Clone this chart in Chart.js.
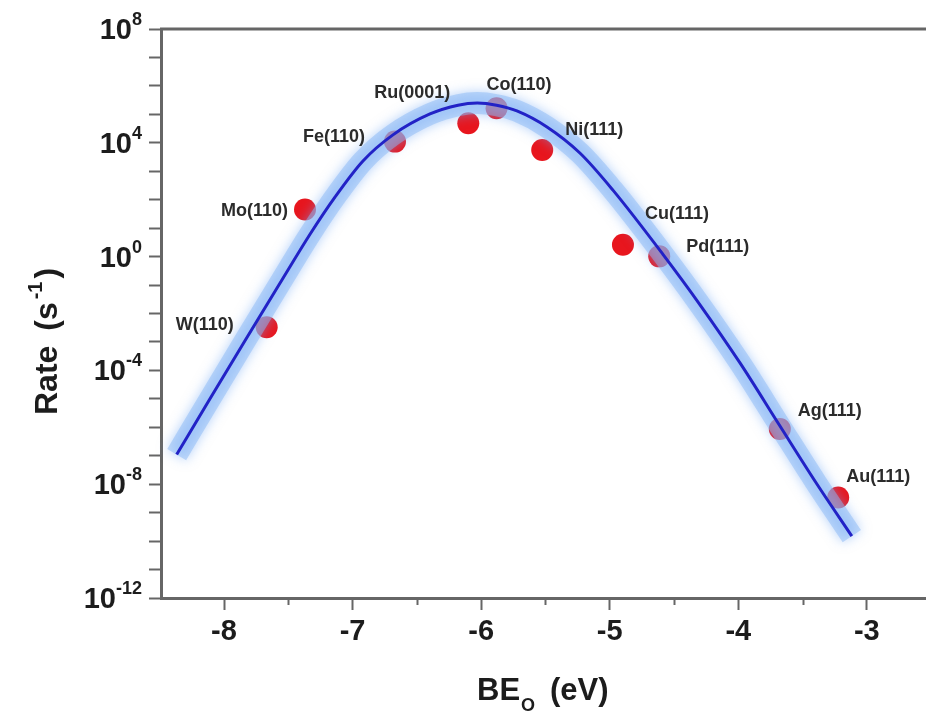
<!DOCTYPE html>
<html>
<head>
<meta charset="utf-8">
<script src="https://cdn.jsdelivr.net/npm/chart.js@4.4.1/dist/chart.umd.min.js"></script>
<style>
  html, body { margin: 0; padding: 0; background: #fff; }
  canvas { display: block; }
</style>
</head>
<body>
<canvas id="volcano" width="926" height="713"></canvas>
<script>
// fitted volcano curve
const curveBE = [-8.368, -8.109, -7.837, -7.565, -7.331, -7.137, -6.919, -6.686, -6.398, -6.18, -6.03,
                 -5.88, -5.722, -5.488, -5.232, -4.975, -4.586, -4.299, -3.988, -3.677, -3.404, -3.117];
const curveRate = [1.1e-7, 1.0e-5, 1.1e-3, 0.115, 6.1, 123, 2.3e3, 1.9e4, 1.03e5, 2.1e5, 2.5e5,
                   2.1e5, 1.32e5, 3.6e4, 4.37e3, 217, 1.2, 2.07e-2, 1.87e-4, 1.13e-6, 1.3e-8, 1.5e-10];

// surfaces
const surfaces = ['W(110)', 'Mo(110)', 'Fe(110)', 'Ru(0001)', 'Co(110)', 'Ni(111)', 'Cu(111)', 'Pd(111)', 'Ag(111)', 'Au(111)'];
const surfBE = [-7.668, -7.37, -6.67, -6.10, -5.88, -5.525, -4.897, -4.615, -3.677, -3.223];
const surfRate = [3.3e-3, 45, 1.1e4, 4.9e4, 1.64e5, 5.6e3, 2.6, 1.02, 8.7e-7, 3.4e-9];

// axis ticks
const xTicks = [-8, -7, -6, -5, -4, -3];
const xMinor = [-7.5, -6.5, -5.5, -4.5, -3.5];
const yExponents = [-12, -8, -4, 0, 4, 8];

// where each label sits next to its dot: [align, dx, dy]
const labelPlace = [
  ['right', -33, -2], ['right', -17, 1], ['right', -30, -5], ['right', -18, -30], ['left', -10, -23],
  ['left', 23, -20], ['left', 22, -31], ['left', 27, -9], ['left', 18, -18], ['left', 8, -20]
];

const FONT = '"Liberation Sans", Arial, sans-serif';
const AXIS = '#666';
const INK = '#1c1c1c';

const glow = {
  id: 'glow',
  beforeDatasetDraw(chart, args) {
    if (args.index === 1) {
      const c = chart.ctx;
      c.save();
      c.shadowColor = 'rgba(110,165,245,1)';
      c.shadowBlur = 12;
    }
  },
  afterDatasetDraw(chart, args) {
    if (args.index === 1) chart.ctx.restore();
  }
};

const decorations = {
  id: 'decorations',
  afterDraw(chart) {
    const { ctx, chartArea: a, scales } = chart;
    const x = scales.x, y = scales.y;
    ctx.save();

    // top frame line
    ctx.strokeStyle = AXIS;
    ctx.lineWidth = 3;
    ctx.beginPath();
    ctx.moveTo(a.left - 1, a.top);
    ctx.lineTo(a.right, a.top);
    ctx.stroke();

    // minor x ticks
    ctx.lineWidth = 2;
    xMinor.forEach(v => {
      const px = Math.round(x.getPixelForValue(v)) + 0.5;
      ctx.beginPath();
      ctx.moveTo(px, a.bottom);
      ctx.lineTo(px, a.bottom + 7);
      ctx.stroke();
    });

    // y tick labels 10^n
    ctx.fillStyle = INK;
    ctx.textAlign = 'right';
    yExponents.forEach(e => {
      const py = y.getPixelForValue(Math.pow(10, e));
      const exp = String(e);
      ctx.font = 'bold 18px ' + FONT;
      const ew = ctx.measureText(exp).width;
      ctx.textBaseline = 'alphabetic';
      ctx.fillText(exp, 142, py - 4);
      ctx.font = 'bold 29px ' + FONT;
      ctx.textBaseline = 'middle';
      ctx.fillText('10', 142 - ew, py + 2);
    });

    // y title, rotated
    ctx.save();
    ctx.translate(57, 415);
    ctx.rotate(-Math.PI / 2);
    ctx.textAlign = 'left';
    ctx.textBaseline = 'alphabetic';
    ctx.font = 'bold 32px ' + FONT;
    ctx.fillText('Rate', 0, 0);
    let w = ctx.measureText('Rate ').width + 6;
    ctx.fillText('(s', w, 0);
    w += ctx.measureText('(s').width;
    ctx.font = 'bold 20px ' + FONT;
    ctx.fillText('-1', w + 3, -15);
    w += ctx.measureText('-1').width + 6;
    ctx.font = 'bold 32px ' + FONT;
    ctx.fillText(')', w, 0);
    ctx.restore();

    // x title BE_O (eV)
    ctx.textAlign = 'left';
    ctx.textBaseline = 'alphabetic';
    ctx.font = 'bold 31px ' + FONT;
    ctx.fillText('BE', 477, 700);
    let bx = 477 + ctx.measureText('BE').width + 1;
    ctx.font = 'bold 18px ' + FONT;
    ctx.fillText('O', bx, 711);
    ctx.font = 'bold 31px ' + FONT;
    ctx.fillText('(eV)', 550, 700);

    // point labels
    ctx.font = 'bold 18px ' + FONT;
    ctx.fillStyle = '#2b2b2b';
    ctx.textBaseline = 'middle';
    surfaces.forEach((name, i) => {
      const px = x.getPixelForValue(surfBE[i]);
      const py = y.getPixelForValue(surfRate[i]);
      const [align, dx, dy] = labelPlace[i];
      ctx.textAlign = align;
      ctx.fillText(name, px + dx, py + dy);
    });

    ctx.restore();
  }
};

const curve = curveBE.map((v, i) => ({ x: v, y: curveRate[i] }));
const dots = surfBE.map((v, i) => ({ x: v, y: surfRate[i] }));

new Chart(document.getElementById('volcano'), {
  type: 'scatter',
  data: {
    datasets: [
      {
        type: 'line', data: curve, borderColor: '#2222c6', borderWidth: 3,
        pointRadius: 0, cubicInterpolationMode: 'monotone', clip: false, order: 0
      },
      {
        type: 'line', data: curve, borderColor: 'rgba(140,185,245,0.5)', borderWidth: 22,
        pointRadius: 0, cubicInterpolationMode: 'monotone', clip: false, order: 1
      },
      {
        data: dots, backgroundColor: '#e8161e', borderWidth: 0,
        pointRadius: 11, clip: false, order: 2
      }
    ]
  },
  options: {
    responsive: false,
    animation: false,
    layout: { autoPadding: false, padding: { top: 29, right: 0, bottom: 0, left: 0 } },
    plugins: { legend: { display: false }, tooltip: { enabled: false } },
    scales: {
      x: {
        type: 'linear',
        min: -8.49,
        max: -2.54,
        afterFit: s => { s.height = 115; },
        afterBuildTicks: s => { s.ticks = xTicks.map(v => ({ value: v })); },
        ticks: { font: { family: FONT, size: 29, weight: 'bold' }, color: INK, padding: 5 },
        grid: { drawOnChartArea: false, tickLength: 12, tickWidth: 2, tickColor: AXIS },
        border: { color: AXIS, width: 3 }
      },
      y: {
        type: 'logarithmic',
        min: 1e-12,
        max: 1e8,
        afterFit: s => { s.width = 161; },
        afterBuildTicks: s => {
          const t = [];
          for (let e = -12; e <= 8; e++) t.push({ value: Math.pow(10, e) });
          s.ticks = t;
        },
        ticks: { display: false },
        grid: { drawOnChartArea: false, tickLength: 12, tickWidth: 2, tickColor: AXIS },
        border: { color: AXIS, width: 3 }
      }
    }
  },
  plugins: [glow, decorations]
});
</script>
</body>
</html>
